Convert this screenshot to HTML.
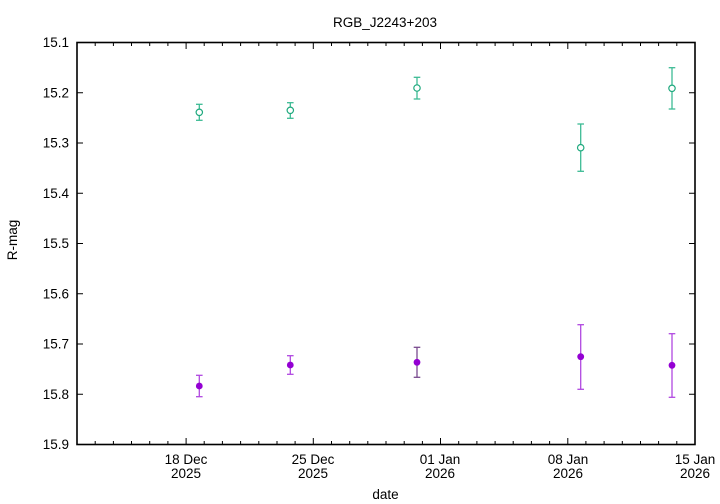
<!DOCTYPE html>
<html>
<head>
<meta charset="utf-8">
<style>
html,body{margin:0;padding:0;background:#fff;}
svg{display:block;}
text{font-family:"Liberation Sans",sans-serif;font-size:13.5px;fill:#000;}
</style>
</head>
<body>
<svg width="720" height="504" viewBox="0 0 720 504" xmlns="http://www.w3.org/2000/svg">
<rect x="0" y="0" width="720" height="504" fill="#fff"/>
<!-- title -->
<text x="385" y="27" text-anchor="middle">RGB_J2243+203</text>
<!-- y ticks -->
<g stroke="#000" stroke-width="1">
<line x1="77" y1="42.5" x2="83" y2="42.5"/><line x1="695" y1="42.5" x2="689" y2="42.5"/>
<line x1="77" y1="92.75" x2="83" y2="92.75"/><line x1="695" y1="92.75" x2="689" y2="92.75"/>
<line x1="77" y1="143" x2="83" y2="143"/><line x1="695" y1="143" x2="689" y2="143"/>
<line x1="77" y1="193.25" x2="83" y2="193.25"/><line x1="695" y1="193.25" x2="689" y2="193.25"/>
<line x1="77" y1="243.5" x2="83" y2="243.5"/><line x1="695" y1="243.5" x2="689" y2="243.5"/>
<line x1="77" y1="293.75" x2="83" y2="293.75"/><line x1="695" y1="293.75" x2="689" y2="293.75"/>
<line x1="77" y1="344" x2="83" y2="344"/><line x1="695" y1="344" x2="689" y2="344"/>
<line x1="77" y1="394.25" x2="83" y2="394.25"/><line x1="695" y1="394.25" x2="689" y2="394.25"/>
</g>
<g text-anchor="end">
<text x="69" y="47">15.1</text>
<text x="69" y="97.25">15.2</text>
<text x="69" y="147.5">15.3</text>
<text x="69" y="197.75">15.4</text>
<text x="69" y="248">15.5</text>
<text x="69" y="298.25">15.6</text>
<text x="69" y="348.5">15.7</text>
<text x="69" y="398.75">15.8</text>
<text x="69" y="449">15.9</text>
</g>
<!-- x ticks -->
<g id="xt" stroke="#000" stroke-width="1"></g>
<g text-anchor="middle">
<text x="186" y="464">18 Dec</text><text x="186" y="478">2025</text>
<text x="313" y="464">25 Dec</text><text x="313" y="478">2025</text>
<text x="440" y="464">01 Jan</text><text x="440" y="478">2026</text>
<text x="568" y="464">08 Jan</text><text x="568" y="478">2026</text>
<text x="695" y="464">15 Jan</text><text x="695" y="478">2026</text>
</g>
<!-- axis labels -->
<text x="385.5" y="499" text-anchor="middle">date</text>
<text transform="translate(17,240) rotate(-90)" text-anchor="middle">R-mag</text>
<!-- frame -->
<rect x="77" y="42.5" width="618" height="402" fill="none" stroke="#000" stroke-width="1.6"/>
<!-- green series -->
<g stroke="#3dbb94" stroke-width="1.3" fill="none">
<line x1="199.3" y1="104.3" x2="199.3" y2="120.3"/><line x1="196" y1="104.3" x2="202.6" y2="104.3"/><line x1="196" y1="120.3" x2="202.6" y2="120.3"/>
<line x1="290.3" y1="102.7" x2="290.3" y2="118.3"/><line x1="287" y1="102.7" x2="293.6" y2="102.7"/><line x1="287" y1="118.3" x2="293.6" y2="118.3"/>
<line x1="417" y1="77.3" x2="417" y2="99"/><line x1="413.7" y1="77.3" x2="420.3" y2="77.3"/><line x1="413.7" y1="99" x2="420.3" y2="99"/>
<line x1="580.7" y1="124" x2="580.7" y2="171.3"/><line x1="577.4" y1="124" x2="584" y2="124"/><line x1="577.4" y1="171.3" x2="584" y2="171.3"/>
<line x1="672" y1="67.7" x2="672" y2="109"/><line x1="668.7" y1="67.7" x2="675.3" y2="67.7"/><line x1="668.7" y1="109" x2="675.3" y2="109"/>
</g>
<g stroke="#1fa97e" stroke-width="1.2" fill="#fff">
<circle cx="199.3" cy="112.3" r="3.2"/>
<circle cx="290.3" cy="110.3" r="3.2"/>
<circle cx="417" cy="88" r="3.2"/>
<circle cx="580.7" cy="147.7" r="3.2"/>
<circle cx="672" cy="88.3" r="3.2"/>
</g>
<!-- purple series -->
<g stroke="#b048e0" stroke-width="1.3" fill="none">
<line x1="199.3" y1="375.3" x2="199.3" y2="396.7"/><line x1="196" y1="375.3" x2="202.6" y2="375.3"/><line x1="196" y1="396.7" x2="202.6" y2="396.7"/>
<line x1="290.3" y1="355.7" x2="290.3" y2="374.3"/><line x1="287" y1="355.7" x2="293.6" y2="355.7"/><line x1="287" y1="374.3" x2="293.6" y2="374.3"/>
<line x1="580.7" y1="324.7" x2="580.7" y2="389.3"/><line x1="577.4" y1="324.7" x2="584" y2="324.7"/><line x1="577.4" y1="389.3" x2="584" y2="389.3"/>
<line x1="672" y1="333.7" x2="672" y2="397.3"/><line x1="668.7" y1="333.7" x2="675.3" y2="333.7"/><line x1="668.7" y1="397.3" x2="675.3" y2="397.3"/>
</g>
<g stroke="#7a4a8e" stroke-width="1.3" fill="none">
<line x1="417" y1="347.3" x2="417" y2="377.3"/><line x1="413.7" y1="347.3" x2="420.3" y2="347.3"/><line x1="413.7" y1="377.3" x2="420.3" y2="377.3"/>
</g>
<g fill="#9400d3">
<circle cx="199.3" cy="386" r="3.4"/>
<circle cx="290.3" cy="365" r="3.4"/>
<circle cx="417" cy="362.3" r="3.4"/>
<circle cx="580.7" cy="356.7" r="3.4"/>
<circle cx="672" cy="365.3" r="3.4"/>
</g>
<!-- x ticks drawn statically -->
<g stroke="#000" stroke-width="1">
<line x1="95.2" y1="444.5" x2="95.2" y2="441"/><line x1="95.2" y1="42.5" x2="95.2" y2="46"/>
<line x1="113.4" y1="444.5" x2="113.4" y2="441"/><line x1="113.4" y1="42.5" x2="113.4" y2="46"/>
<line x1="131.5" y1="444.5" x2="131.5" y2="441"/><line x1="131.5" y1="42.5" x2="131.5" y2="46"/>
<line x1="149.7" y1="444.5" x2="149.7" y2="441"/><line x1="149.7" y1="42.5" x2="149.7" y2="46"/>
<line x1="167.9" y1="444.5" x2="167.9" y2="441"/><line x1="167.9" y1="42.5" x2="167.9" y2="46"/>
<line x1="186.1" y1="444.5" x2="186.1" y2="438"/><line x1="186.1" y1="42.5" x2="186.1" y2="49"/>
<line x1="204.2" y1="444.5" x2="204.2" y2="441"/><line x1="204.2" y1="42.5" x2="204.2" y2="46"/>
<line x1="222.4" y1="444.5" x2="222.4" y2="441"/><line x1="222.4" y1="42.5" x2="222.4" y2="46"/>
<line x1="240.6" y1="444.5" x2="240.6" y2="441"/><line x1="240.6" y1="42.5" x2="240.6" y2="46"/>
<line x1="258.8" y1="444.5" x2="258.8" y2="441"/><line x1="258.8" y1="42.5" x2="258.8" y2="46"/>
<line x1="277" y1="444.5" x2="277" y2="441"/><line x1="277" y1="42.5" x2="277" y2="46"/>
<line x1="295.1" y1="444.5" x2="295.1" y2="441"/><line x1="295.1" y1="42.5" x2="295.1" y2="46"/>
<line x1="313.3" y1="444.5" x2="313.3" y2="438"/><line x1="313.3" y1="42.5" x2="313.3" y2="49"/>
<line x1="331.5" y1="444.5" x2="331.5" y2="441"/><line x1="331.5" y1="42.5" x2="331.5" y2="46"/>
<line x1="349.7" y1="444.5" x2="349.7" y2="441"/><line x1="349.7" y1="42.5" x2="349.7" y2="46"/>
<line x1="367.8" y1="444.5" x2="367.8" y2="441"/><line x1="367.8" y1="42.5" x2="367.8" y2="46"/>
<line x1="386" y1="444.5" x2="386" y2="441"/><line x1="386" y1="42.5" x2="386" y2="46"/>
<line x1="404.2" y1="444.5" x2="404.2" y2="441"/><line x1="404.2" y1="42.5" x2="404.2" y2="46"/>
<line x1="422.4" y1="444.5" x2="422.4" y2="441"/><line x1="422.4" y1="42.5" x2="422.4" y2="46"/>
<line x1="440.5" y1="444.5" x2="440.5" y2="438"/><line x1="440.5" y1="42.5" x2="440.5" y2="49"/>
<line x1="458.7" y1="444.5" x2="458.7" y2="441"/><line x1="458.7" y1="42.5" x2="458.7" y2="46"/>
<line x1="476.9" y1="444.5" x2="476.9" y2="441"/><line x1="476.9" y1="42.5" x2="476.9" y2="46"/>
<line x1="495.1" y1="444.5" x2="495.1" y2="441"/><line x1="495.1" y1="42.5" x2="495.1" y2="46"/>
<line x1="513.2" y1="444.5" x2="513.2" y2="441"/><line x1="513.2" y1="42.5" x2="513.2" y2="46"/>
<line x1="531.4" y1="444.5" x2="531.4" y2="441"/><line x1="531.4" y1="42.5" x2="531.4" y2="46"/>
<line x1="549.6" y1="444.5" x2="549.6" y2="441"/><line x1="549.6" y1="42.5" x2="549.6" y2="46"/>
<line x1="567.8" y1="444.5" x2="567.8" y2="438"/><line x1="567.8" y1="42.5" x2="567.8" y2="49"/>
<line x1="585.9" y1="444.5" x2="585.9" y2="441"/><line x1="585.9" y1="42.5" x2="585.9" y2="46"/>
<line x1="604.1" y1="444.5" x2="604.1" y2="441"/><line x1="604.1" y1="42.5" x2="604.1" y2="46"/>
<line x1="622.3" y1="444.5" x2="622.3" y2="441"/><line x1="622.3" y1="42.5" x2="622.3" y2="46"/>
<line x1="640.5" y1="444.5" x2="640.5" y2="441"/><line x1="640.5" y1="42.5" x2="640.5" y2="46"/>
<line x1="658.6" y1="444.5" x2="658.6" y2="441"/><line x1="658.6" y1="42.5" x2="658.6" y2="46"/>
<line x1="676.8" y1="444.5" x2="676.8" y2="441"/><line x1="676.8" y1="42.5" x2="676.8" y2="46"/>
</g>
</svg>
</body>
</html>
